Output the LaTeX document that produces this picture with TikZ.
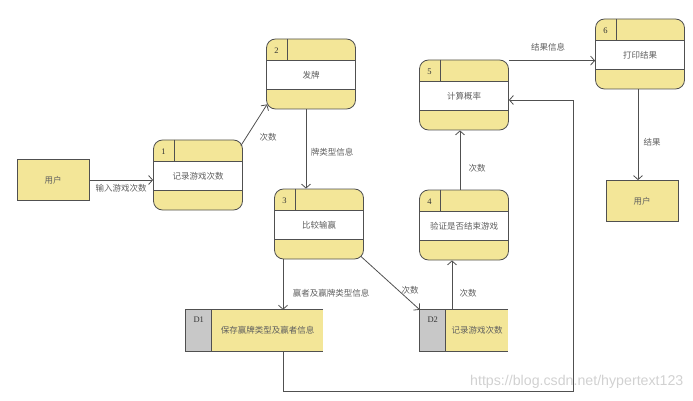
\documentclass[tikz,border=0pt]{standalone}
\usepackage{fontspec}
\setmainfont{Liberation Serif}
\newfontfamily\cjk{Noto Sans CJK SC}
\newfontfamily\wmfont{Liberation Sans}
\usetikzlibrary{arrows.meta,calc}

\definecolor{procyellow}{RGB}{243,230,152}
\definecolor{storegray}{RGB}{200,200,200}
\definecolor{linegray}{RGB}{80,80,80}
\definecolor{textgray}{RGB}{95,95,95}

\tikzset{
  proc/.style={draw=linegray,line width=0.8pt,fill=procyellow,rounded corners=9pt,
    minimum width=89pt,minimum height=70pt,inner sep=0pt},
  ent/.style={draw=linegray,line width=0.8pt,fill=procyellow,minimum width=72pt,
    minimum height=41pt,inner sep=0pt,text=textgray,font=\cjk\fontsize{8.5}{10}\selectfont},
  store/.style={fill=procyellow,minimum height=41pt,inner sep=0pt},
  num/.style={font=\fontsize{8.5}{10}\selectfont,text=black!80,inner sep=0pt},
  txt/.style={font=\cjk\fontsize{8.5}{10}\selectfont,text=textgray,inner sep=0pt},
  lbl/.style={font=\cjk\fontsize{8.5}{10}\selectfont,text=textgray,inner sep=1pt},
  flow/.style={draw=linegray,line width=0.8pt,-{Straight Barb[length=4pt,width=9pt]}}
}

% process: name, centre, number, text
\newcommand{\procbox}[4]{%
  \node[proc] (#1) at (#2) {};
  \fill[white] ($(#1.north west)+(0.6,22)$) rectangle ($(#1.north east)+(-0.6,51)$);
  \draw[linegray,line width=0.8pt] ($(#1.north west)+(0,22)$) -- ($(#1.north east)+(0,22)$)
    ($(#1.north west)+(0,51)$) -- ($(#1.north east)+(0,51)$)
    ($(#1.north west)+(21,0)$) -- ($(#1.north west)+(21,22)$);
  \node[num] (#1n) at ($(#1.north west)+(10.5,12)$) {#3};
  \node[txt] (#1t) at ($(#1.north)+(0,36.5)$) {#4};
}

% data store: name, centre, width, id, text
\newcommand{\datastore}[5]{%
  \node[store,minimum width=#3] (#1) at (#2) {};
  \fill[storegray] (#1.north west) rectangle ($(#1.south west)+(26,0)$);
  \draw[linegray,line width=0.8pt] (#1.north east) -- (#1.north west) -- (#1.south west) -- (#1.south east)
    ($(#1.north west)+(26,0)$) -- ($(#1.south west)+(26,0)$);
  \node[num] (#1n) at ($(#1.north west)+(13,10)$) {#4};
  \node[txt] (#1t) at ($(#1.center)+(13,0)$) {#5};
}

\begin{document}
\begin{tikzpicture}[x=1pt,y=-1pt]

\useasboundingbox (0,0) rectangle (693,401);

\node[ent] (user1) at (53,180) {用户};
\node[ent] (user2) at (642,201) {用户};

\procbox{p1}{198,175}{1}{记录游戏次数}
\procbox{p2}{311,74}{2}{发牌}
\procbox{p3}{319,224}{3}{比较输赢}
\procbox{p4}{464,225}{4}{验证是否结束游戏}
\procbox{p5}{464,95}{5}{计算概率}
\procbox{p6}{640,54}{6}{打印结果}

\datastore{d1}{254.5,330.5}{137pt}{D1}{保存赢牌类型及赢者信息}
\datastore{d2}{464,330.5}{88pt}{D2}{记录游戏次数}

\coordinate (turn) at (573,391);

\draw[flow] (user1.east) -- (user1.east -| p1.west);
\draw[flow] ([shift={(-2,6)}]p1.north east) -- ([shift={(1,-5)}]p2.south west);
\draw[flow] ([xshift=-5pt]p2.south) -- ([xshift=-13pt]p3.north);
\draw[flow] ([xshift=-36pt]p3.south) -- ([xshift=-36pt]p3.south |- d1.north);
\draw[flow] ([shift={(-3,-3)}]p3.south east) -- (d2.north west);
\draw[flow] ([xshift=-12pt]d2.north) -- ([xshift=-12pt]d2.north |- p4.south);
\draw[flow] ([xshift=-4pt]p4.north) -- ([xshift=-4pt]p5.south);
\draw[flow] ([xshift=28.5pt]d1.south) |- (turn) |- ([yshift=-5pt]p5.east);
\draw[flow] ([yshift=-1pt]p5.north east) -- ([yshift=-1pt]p5.north east -| p6.west);
\draw[flow] ([xshift=-2pt]p6.south) -- ([xshift=-2pt]p6.south |- user2.north);

\node[lbl] (l1) at (121,188) {输入游戏次数};
\node[lbl] (l2) at (268,137) {次数};
\node[lbl] (l3) at (332,152) {牌类型信息};
\node[lbl] (l4) at (331,293) {赢者及赢牌类型信息};
\node[lbl] (l5) at (410,290) {次数};
\node[lbl] (l6) at (468,293) {次数};
\node[lbl] (l7) at (477,168) {次数};
\node[lbl] (l8) at (548,47) {结果信息};
\node[lbl] (l9) at (652,142) {结果};

\node[font=\wmfont\fontsize{14.2}{16}\selectfont,text=black!18,anchor=west,inner sep=0pt] (wm) at (470,382) {https://blog.csdn.net/hypertext123};

\end{tikzpicture}
\end{document}
